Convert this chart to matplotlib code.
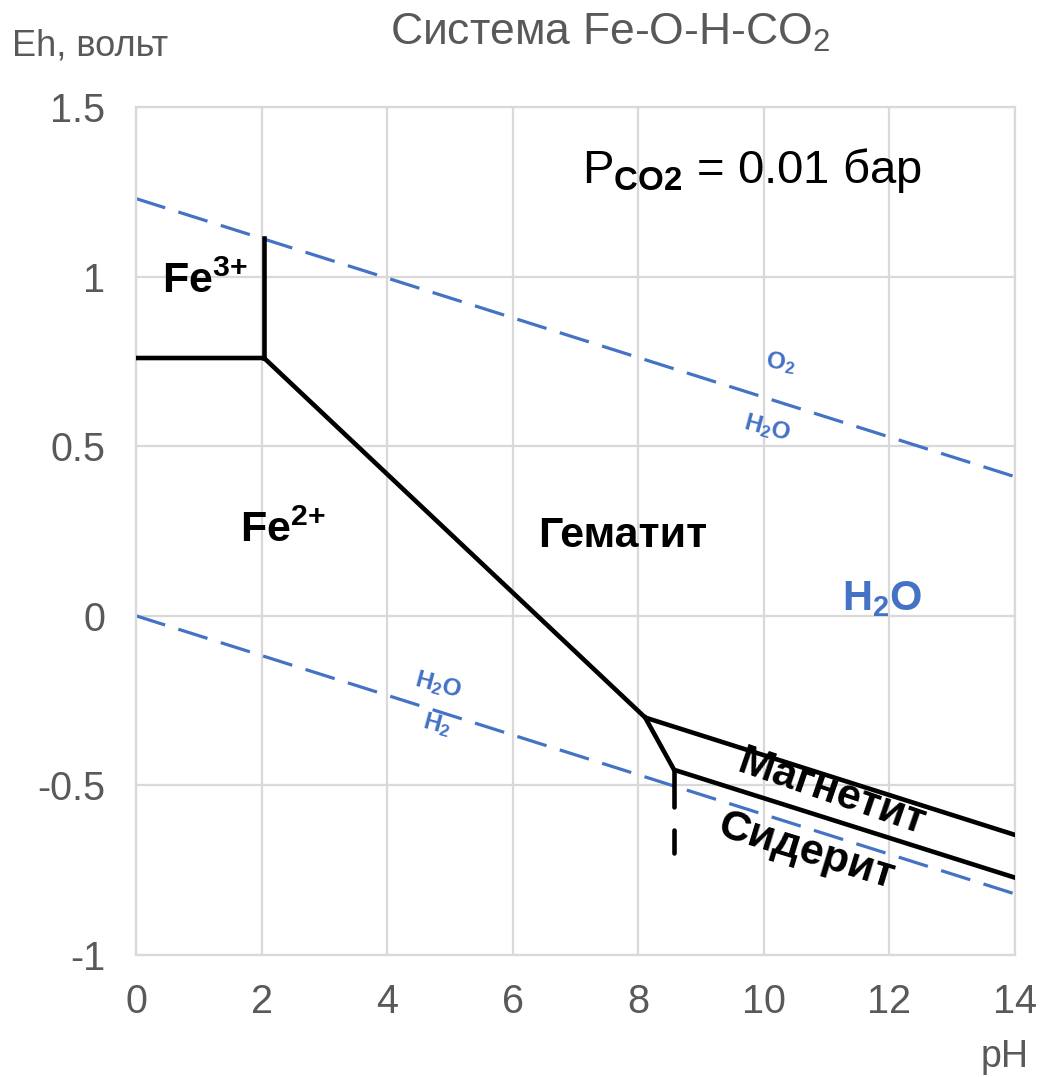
import matplotlib
matplotlib.use("Agg")
import matplotlib.pyplot as plt

plt.rcParams["font.family"] = ["Liberation Sans", "DejaVu Sans"]
plt.rcParams["mathtext.fontset"] = "custom"
plt.rcParams["mathtext.rm"] = "Liberation Sans"
plt.rcParams["mathtext.it"] = "Liberation Sans"
plt.rcParams["mathtext.bf"] = "Liberation Sans:bold"
plt.rcParams["lines.scale_dashes"] = False

# ── данные ───────────────────────────────────────────────────────────────
# границы устойчивости воды
ph_water = [0, 14]
eh_o2 = [1.23, 0.41]
eh_h2 = [0.0, -0.82]

# Fe3+ / Fe2+ / гематит / магнетит
ph_main = [0, 2.04, 8.11, 14]
eh_main = [0.76, 0.76, -0.30, -0.646]
ph_fe3_vert = [2.04, 2.04]
eh_fe3_vert = [0.76, 1.114]

# Fe2+ / сидерит / магнетит
ph_sid = [8.11, 8.57, 14]
eh_sid = [-0.30, -0.454, -0.772]
ph_sid_vert = [8.57, 8.57]
eh_sid_vert = [-0.454, -0.70]

BLUE = "#4472C4"
GRAY = "#595959"
GRID = "#D9D9D9"

fig = plt.figure(figsize=(10.41, 10.77), dpi=100)
ax = fig.add_axes([136 / 1041, 1 - 955 / 1077, (1015 - 136) / 1041, (955 - 107) / 1077])

ax.set_xlim(0, 14)
ax.set_ylim(-1, 1.5)
ax.set_xticks(range(0, 15, 2))
ax.set_yticks([-1, -0.5, 0, 0.5, 1, 1.5])
ax.set_yticklabels(["-1", "-0.5", "0", "0.5", "1", "1.5"])
ax.grid(True, color=GRID, lw=1.6, zorder=0)
for s in ax.spines.values():
    s.set_color(GRID)
    s.set_linewidth(1.6)
ax.tick_params(length=0, labelsize=28.5, labelcolor=GRAY)
ax.tick_params(axis="y", pad=22)
ax.tick_params(axis="x", pad=20)

# вода
ax.plot(ph_water, eh_o2, color=BLUE, lw=2.3, dashes=(22, 10), zorder=2)
ax.plot(ph_water, eh_h2, color=BLUE, lw=2.3, dashes=(22, 10), zorder=2)

# поля железа
kw = dict(color="black", lw=3.3, solid_joinstyle="miter", zorder=3)
ax.plot(ph_main, eh_main, **kw)
ax.plot(ph_fe3_vert, eh_fe3_vert, **kw)
ax.plot(ph_sid, eh_sid, **kw)
ax.plot(ph_sid_vert, eh_sid_vert, color="black", lw=3.3, dashes=(26.6, 16.6),
        dash_capstyle="round", zorder=3)

# подписи полей
bold = dict(fontsize=31, fontweight="bold", color="black", zorder=5)
ax.text(0.41, 0.952, r"Fe$^{\mathbf{3{+}}}$", ha="left", va="baseline", **bold)
ax.text(1.656, 0.218, r"Fe$^{\mathbf{2{+}}}$", ha="left", va="baseline", **bold)
ax.text(6.40, 0.203, "Гематит", ha="left", va="baseline", **bold)
ax.text(11.08, -0.522, "Магнетит", ha="center", va="center", rotation=-19,
        rotation_mode="anchor", **bold)
ax.text(10.67, -0.696, "Сидерит", ha="center", va="center", rotation=-17,
        rotation_mode="anchor", **bold)
ax.text(11.24, 0.018, r"H$_{\mathbf{2}}$O", ha="left", va="baseline",
        fontsize=30, fontweight="bold", color=BLUE)

small = dict(fontsize=17.5, fontweight="bold", color=BLUE, ha="center", va="center",
             rotation_mode="anchor")
ax.text(10.26, 0.746, r"O$_{\mathbf{2}}$", rotation=-8, **small)
ax.text(10.05, 0.554, r"H$_{\mathbf{2}}$O", rotation=-15, **small)
ax.text(4.81, -0.203, r"H$_{\mathbf{2}}$O", rotation=-15, **small)
ax.text(4.79, -0.321, r"H$_{\mathbf{2}}$", rotation=-15, **small)

ax.text(7.10, 1.277, r"P$_{\mathbf{CO2}}$ = 0.01 бар", ha="left", va="baseline",
        fontsize=34, color="black")

# заголовок и оси
fig.text(610 / 1041, 1 - 33 / 1077, r"Система Fe-O-H-CO$_2$", ha="center",
         va="center", fontsize=32, color=GRAY)
fig.text(12 / 1041, 1 - 55 / 1077, "Eh, вольт", ha="left", va="baseline",
         fontsize=26, color=GRAY)
fig.text(1005 / 1041, 1 - 1057 / 1077, "pH", ha="center", va="center",
         fontsize=27, color=GRAY)

fig.savefig("out.png", dpi=100)
